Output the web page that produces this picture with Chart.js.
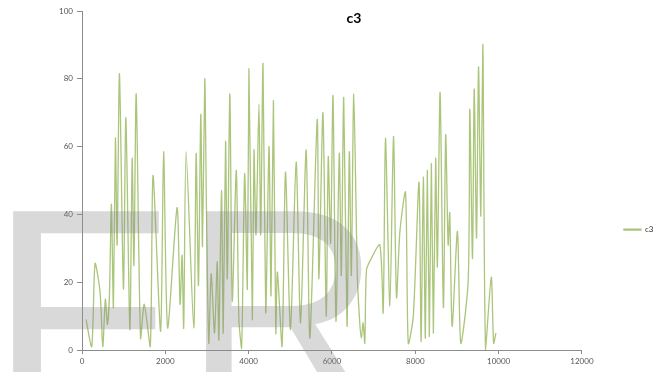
<!DOCTYPE html>
<html>
<head>
<meta charset="utf-8">
<script src="https://cdn.jsdelivr.net/npm/chart.js@4/dist/chart.umd.min.js"></script>
<style>
  html, body { margin: 0; padding: 0; background: #fff; }
</style>
</head>
<body>
<canvas id="myChart_c3" width="660" height="372"></canvas>
<script>
var seriesName = "c3";

var xValues = [
  96, 234, 313, 434, 499, 561, 610, 658, 706, 754,
  802, 843, 899, 995, 1053, 1149, 1205, 1246, 1301, 1405,
  1494, 1639, 1704, 1887, 1959, 2055, 2282, 2354, 2402, 2441,
  2499, 2682, 2740, 2795, 2851, 2892, 2947, 2988, 3043, 3101,
  3181, 3246, 3284, 3349, 3390, 3446, 3487, 3549, 3607, 3704,
  3766, 3831, 3904, 3969, 4007, 4089, 4128, 4176, 4248, 4289,
  4345, 4410, 4489, 4537, 4595, 4651, 4690, 4802, 4884, 5004,
  5140, 5245, 5381, 5470, 5646, 5687, 5783, 5863, 5911, 5968,
  6024, 6096, 6176, 6224, 6282, 6361, 6417, 6465, 6523, 6610,
  6667, 6706, 6747, 6788, 6827, 6923, 7149, 7229, 7284, 7390,
  7477, 7549, 7631, 7766, 7831, 7952, 8089, 8140, 8193, 8241,
  8289, 8337, 8386, 8434, 8489, 8530, 8595, 8675, 8730, 8788,
  8827, 8884, 9012, 9092, 9270, 9308, 9373, 9414, 9470, 9518,
  9573, 9622, 9687, 9824, 9880, 9935
];

var yValues = [
  9, 1, 25.5, 17, 1, 15, 7.5, 16, 43, 12.5,
  62.5, 31, 81.5, 18, 68.5, 6, 56.5, 25, 75.5, 3.5,
  13.5, 1, 51.5, 5.5, 58.5, 6.5, 42, 13.5, 28, 6.5,
  58.5, 6.5, 58, 19, 69.5, 30.5, 80, 41, 2, 22.5,
  5, 26, 3, 47, 5, 61.5, 21, 75.5, 14.5, 53,
  9, 0.5, 52, 18, 83, 9, 59, 34, 72.5, 34,
  84.5, 11, 60, 16, 73.5, 5, 23, 1, 52.5, 6,
  55.5, 8, 59, 3.5, 68, 21, 70, 10, 57, 31.5,
  75, 8.5, 58, 22, 74.5, 7, 58.5, 22, 75.5, 21.5,
  8, 3.5, 8, 2, 23.5, 26.5, 31, 11, 62.5, 13,
  63, 15.5, 35, 46.5, 2, 10, 49.5, 2.5, 51, 3.5,
  53, 4, 55, 5, 56.5, 24.5, 76, 12.5, 63.5, 31,
  40.5, 7, 35, 2, 20.5, 71, 27, 77, 33, 83.5,
  39.5, 90, 0, 21.5, 2, 5
];

var xTicks = [0, 2000, 4000, 6000, 8000, 10000, 12000];
var yTicks = [0, 20, 40, 60, 80, 100];
var watermarkLetters = ["F", "R"];

var lineColor = "#abc57b";
var axisColor = "#8c8c8c";
var labelColor = "#555555";

Chart.defaults.font.family = "Lato, 'Liberation Sans', sans-serif";

// draws one big letter so that its ink box starts at left/top and ends at right
function drawStamp(ctx, letter, left, right, top) {
  var m = ctx.measureText(letter);
  var inkW = m.actualBoundingBoxLeft + m.actualBoundingBoxRight;
  var sx = (right - left) / inkW;
  ctx.save();
  ctx.translate(left + m.actualBoundingBoxLeft * sx, top + m.actualBoundingBoxAscent);
  ctx.scale(sx, 1);
  ctx.fillText(letter, 0, 0);
  ctx.restore();
}

// big grey letters laid over the chart, like the stamp on the original
var watermarkPlugin = {
  id: "watermark",
  afterDraw: function (chart) {
    var ctx = chart.ctx;
    ctx.save();
    ctx.fillStyle = "rgba(140, 140, 140, 0.33)";
    ctx.font = "288px 'Liberation Sans'";
    ctx.textBaseline = "alphabetic";
    drawStamp(ctx, watermarkLetters[0], 12, 161, 207);
    drawStamp(ctx, watermarkLetters[1], 205, 372, 207);
    ctx.restore();
  },
};

var padLeft = 44.6;

var points = xValues.map(function (x, i) {
  return { x: x, y: yValues[i] };
});

var ctx_c3 = document.getElementById("myChart_c3").getContext("2d");
var chartC3 = new Chart(ctx_c3, {
  type: "line",
  data: {
    datasets: [
      {
        label: seriesName,
        data: points,
        borderColor: lineColor,
        backgroundColor: lineColor,
        borderWidth: 1.3,
        tension: 0.25,
        pointRadius: 0,
      },
    ],
  },
  options: {
    responsive: false,
    animation: false,
    devicePixelRatio: 1,
    layout: {
      padding: { top: 10, left: padLeft, right: -3.4, bottom: 0 },
    },
    scales: {
      x: {
        type: "linear",
        min: xTicks[0],
        max: xTicks[xTicks.length - 1],
        afterBuildTicks: function (scale) {
          scale.ticks = xTicks.map(function (v) { return { value: v }; });
        },
        ticks: {
          font: { size: 8 },
          color: labelColor,
          padding: 3,
          maxRotation: 0,
          callback: function (value) { return String(value); },
        },
        grid: {
          drawOnChartArea: false,
          drawTicks: true,
          tickLength: 4,
          color: axisColor,
        },
        border: { color: axisColor },
        afterFit: function (scale) {
          scale.height = 22;
        },
      },
      y: {
        min: yTicks[0],
        max: yTicks[yTicks.length - 1],
        afterBuildTicks: function (scale) {
          scale.ticks = yTicks.map(function (v) { return { value: v }; });
        },
        ticks: {
          font: { size: 8 },
          color: labelColor,
          padding: 4,
          callback: function (value) { return String(value); },
        },
        grid: {
          drawOnChartArea: false,
          drawTicks: true,
          tickLength: 5,
          color: axisColor,
        },
        border: { color: axisColor },
        afterFit: function (scale) {
          scale.width = 82 - padLeft;
        },
      },
    },
    plugins: {
      title: {
        display: true,
        text: seriesName,
        color: "#000",
        font: { size: 14, weight: "bold" },
        padding: { top: 0, bottom: -15.8 },
      },
      legend: {
        position: "right",
        align: "center",
        title: {
          display: true,
          text: " ",
          font: { size: 1 },
          padding: { top: 76, bottom: 0 },
        },
        labels: {
          boxWidth: 17,
          boxHeight: 1,
          padding: 42,
          color: "#333",
          font: { size: 8 },
        },
      },
      tooltip: { enabled: false },
    },
  },
  plugins: [watermarkPlugin],
});
</script>
</body>
</html>
